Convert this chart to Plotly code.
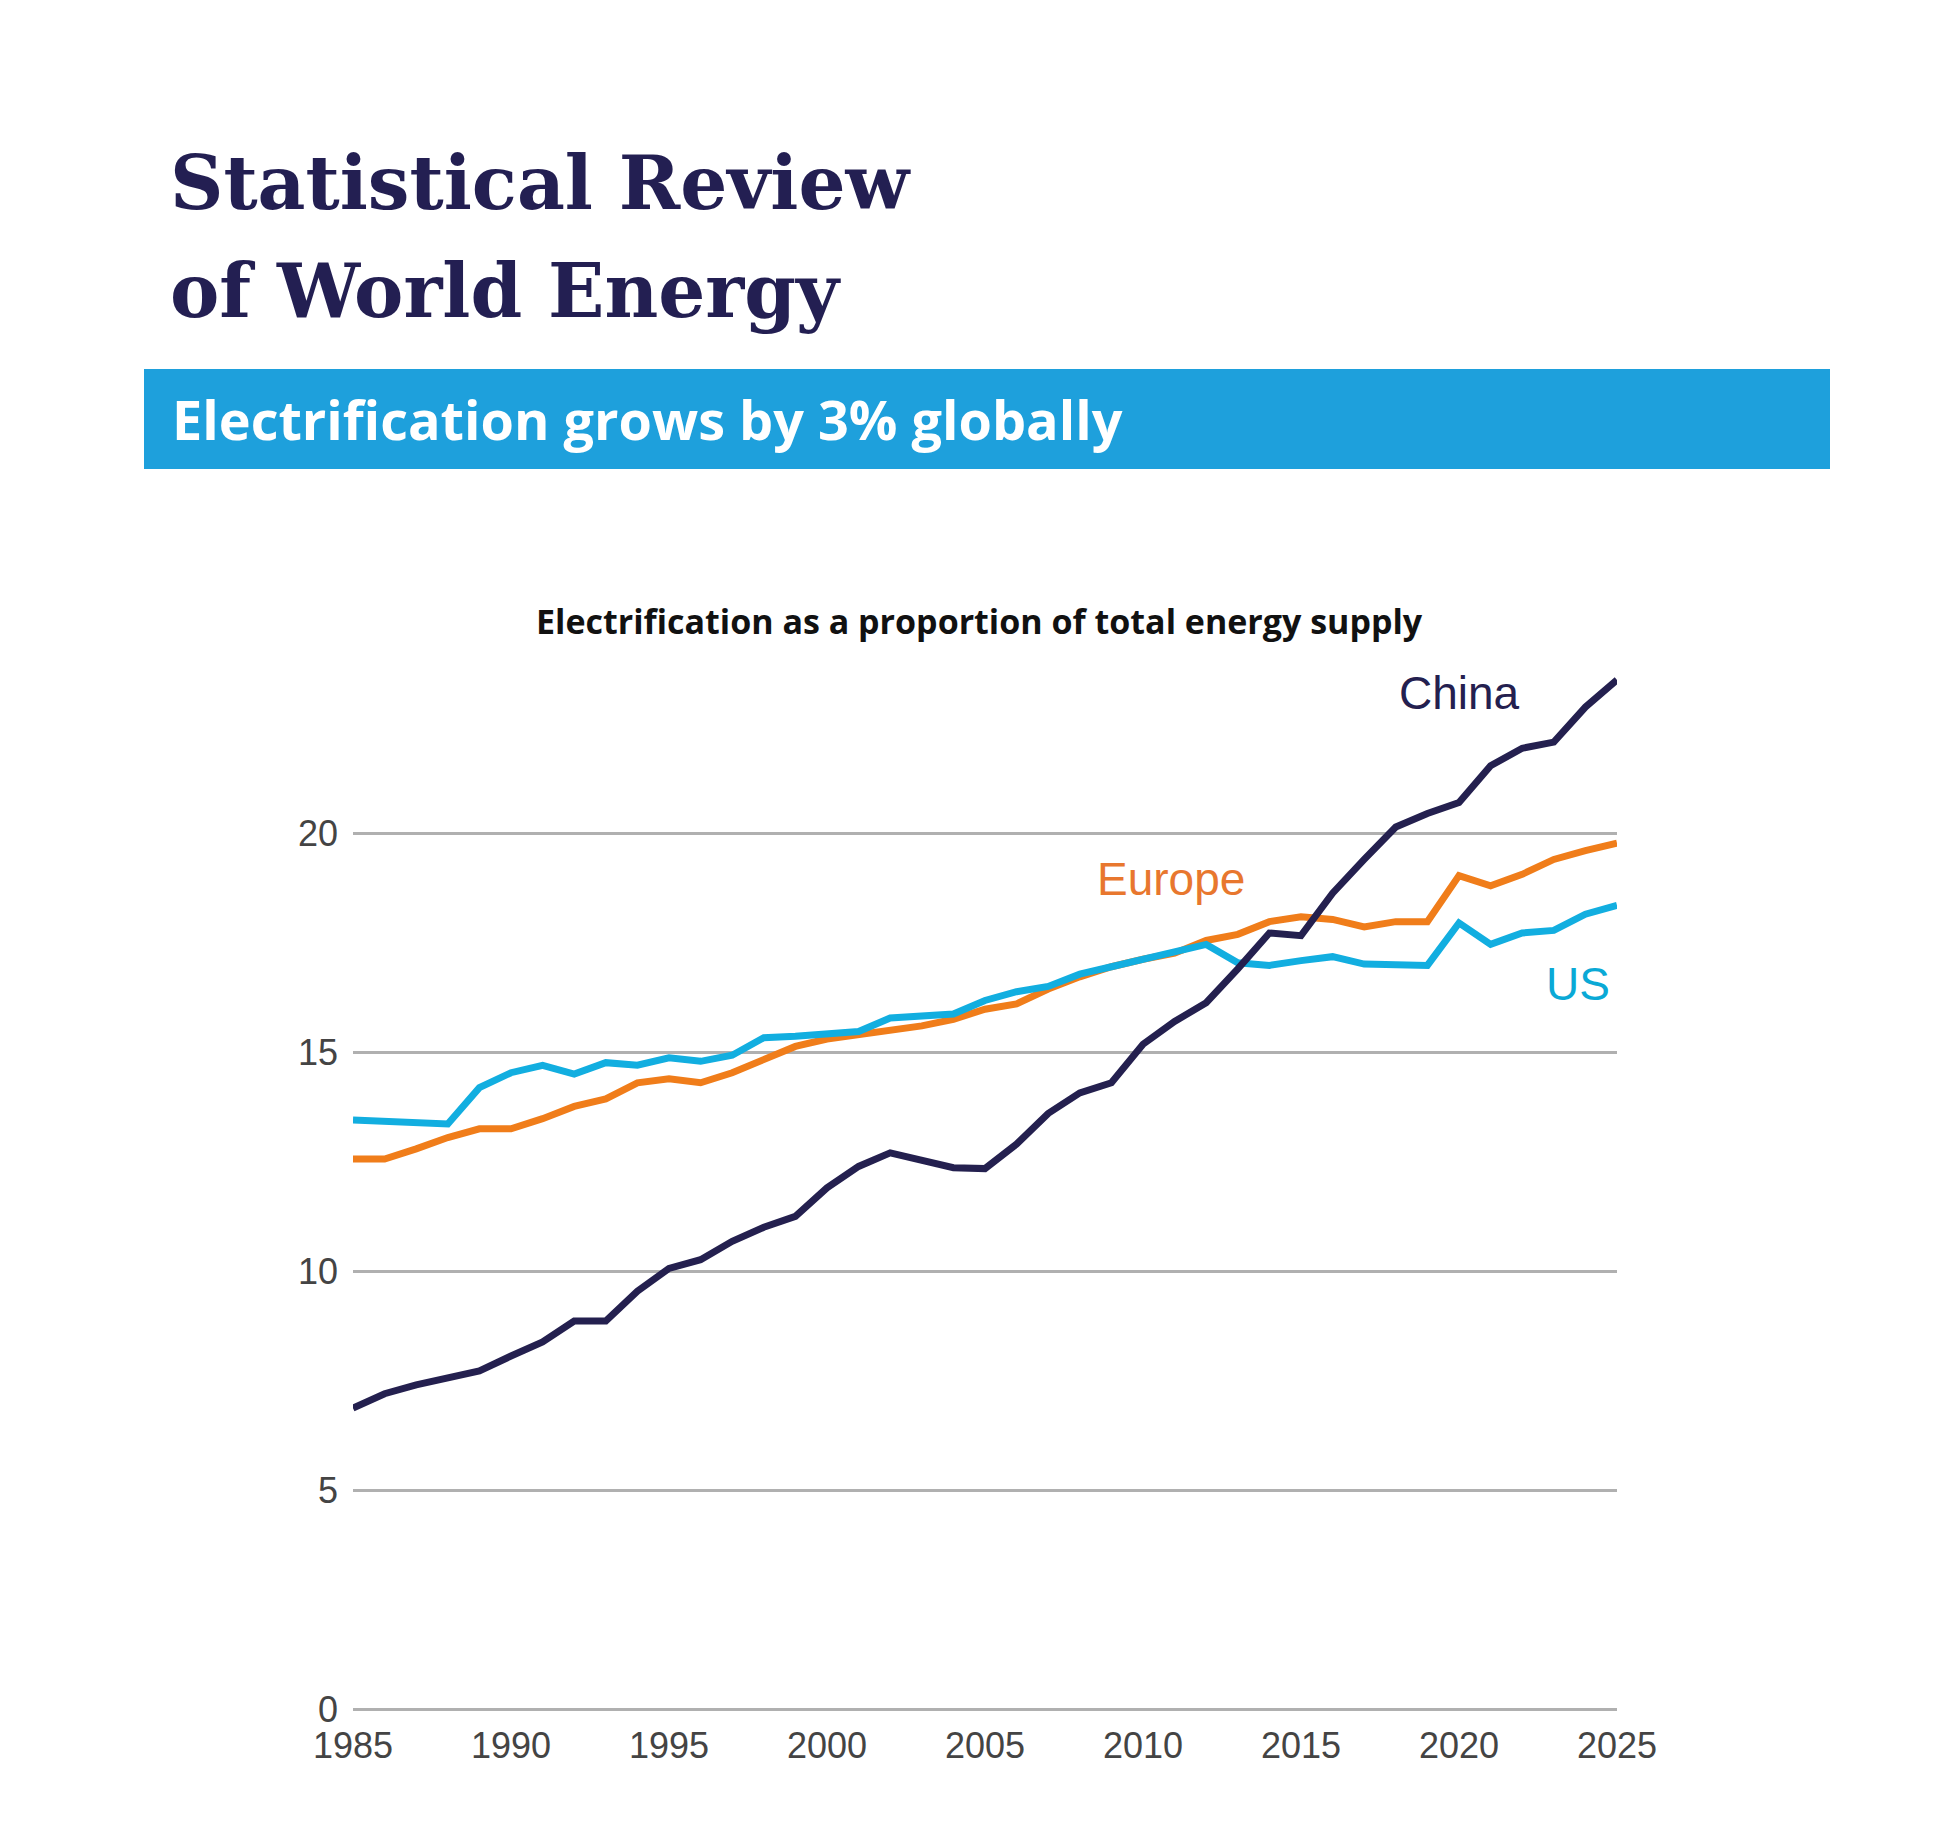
import plotly.graph_objects as go

years = list(range(1985, 2026))

china = [6.87, 7.2, 7.4, 7.58, 7.72, 8.06, 8.38, 8.86, 8.86, 9.54,
         10.06, 10.26, 10.68, 11.0, 11.25, 11.9, 12.39, 12.7, 12.54, 12.36,
         12.34, 12.9, 13.6, 14.07, 14.3, 15.18, 15.7, 16.13, 16.9, 17.72,
         17.66, 18.63, 19.4, 20.14, 20.45, 20.7, 21.54, 21.94, 22.08, 22.88, 23.5]

europe = [12.56, 12.56, 12.79, 13.05, 13.25, 13.25, 13.48, 13.76, 13.93, 14.3,
          14.39, 14.3, 14.53, 14.81, 15.13, 15.3, 15.4, 15.53, 15.6, 15.75,
          15.98, 16.1, 16.44, 16.72, 16.95, 17.12, 17.26, 17.55, 17.69, 17.98,
          18.09, 18.03, 17.86, 17.98, 17.98, 19.03, 18.8, 19.06, 19.4, 19.6, 19.77]

us = [13.45, 13.42, 13.36, 13.36, 14.19, 14.53, 14.7, 14.5, 14.76, 14.7,
      14.87, 14.79, 14.93, 15.33, 15.36, 15.41, 15.47, 15.78, 15.84, 15.87,
      16.18, 16.38, 16.5, 16.78, 16.95, 17.12, 17.26, 17.46, 17.04, 16.98,
      17.09, 17.18, 17.01, 17.01, 16.98, 17.95, 17.46, 17.72, 17.78, 18.15, 18.35]

x_ticks = [1985, 1990, 1995, 2000, 2005, 2010, 2015, 2020, 2025]
y_ticks = [0, 5, 10, 15, 20]

NAVY = "#24204f"
ORANGE = "#f07d1a"
CYAN = "#12aee0"

fig = go.Figure()
# draw in order so China sits on top, US above Europe
fig.add_trace(go.Scatter(x=years, y=europe, mode="lines", line=dict(color=ORANGE, width=7)))
fig.add_trace(go.Scatter(x=years, y=us, mode="lines", line=dict(color=CYAN, width=7)))
fig.add_trace(go.Scatter(x=years, y=china, mode="lines", line=dict(color=NAVY, width=7)))

fig.update_layout(
    width=1934, height=1841,
    paper_bgcolor="white", plot_bgcolor="white",
    showlegend=False,
    margin=dict(l=345, r=325, t=650, b=140),
    font=dict(family="Liberation Sans, Arial", color="#444444"),
)
fig.update_xaxes(range=[1985, 2025], tickvals=x_ticks, showgrid=False, zeroline=False,
                 showline=False, ticks="", ticklabelstandoff=12,
                 tickfont=dict(size=36, color="#444444"))
fig.update_yaxes(range=[0, 24], tickvals=y_ticks, showgrid=True, gridcolor="#b0b0b0",
                 gridwidth=3, zeroline=True, zerolinecolor="#b0b0b0", zerolinewidth=3,
                 ticks="", ticklabelstandoff=14,
                 tickfont=dict(size=36, color="#444444"))

PL, PW, PB, PH = 345, 1934 - 345 - 325, 1701, 1841 - 650 - 140


def paper_x(px):
    return (px - PL) / PW


def paper_y(py):
    return (PB - py) / PH


# header band
fig.add_shape(type="rect", xref="paper", yref="paper",
              x0=paper_x(136), x1=paper_x(1822), y0=paper_y(461), y1=paper_y(361),
              fillcolor="#1ea0dc", line_width=0, layer="below")

fig.add_annotation(xref="paper", yref="paper", x=paper_x(160), y=paper_y(175),
                   xanchor="left", yanchor="middle", showarrow=False,
                   text="<b>Statistical Review</b>",
                   font=dict(family="DejaVu Serif", size=74, color="#231f52"))
fig.add_annotation(xref="paper", yref="paper", x=paper_x(160), y=paper_y(283),
                   xanchor="left", yanchor="middle", showarrow=False,
                   text="<b>of World Energy</b>",
                   font=dict(family="DejaVu Serif", size=74, color="#231f52"))
fig.add_annotation(xref="paper", yref="paper", x=paper_x(162), y=paper_y(411),
                   xanchor="left", yanchor="middle", showarrow=False,
                   text="<b>Electrification grows by 3% globally</b>",
                   font=dict(family="Open Sans", size=54, color="white"))
fig.add_annotation(xref="paper", yref="paper", x=paper_x(971), y=paper_y(613),
                   xanchor="center", yanchor="middle", showarrow=False,
                   text="<b>Electrification as a proportion of total energy supply</b>",
                   font=dict(family="Open Sans", size=34, color="#111111"))

# series labels
fig.add_annotation(x=2020, y=23.2, text="China", showarrow=False,
                   font=dict(size=46, color=NAVY))
fig.add_annotation(x=2010.9, y=18.95, text="Europe", showarrow=False,
                   font=dict(size=46, color="#e8772e"))
fig.add_annotation(x=2023.75, y=16.55, text="US", showarrow=False,
                   font=dict(size=46, color="#0aa9d6"))

fig.write_html("out.html")
